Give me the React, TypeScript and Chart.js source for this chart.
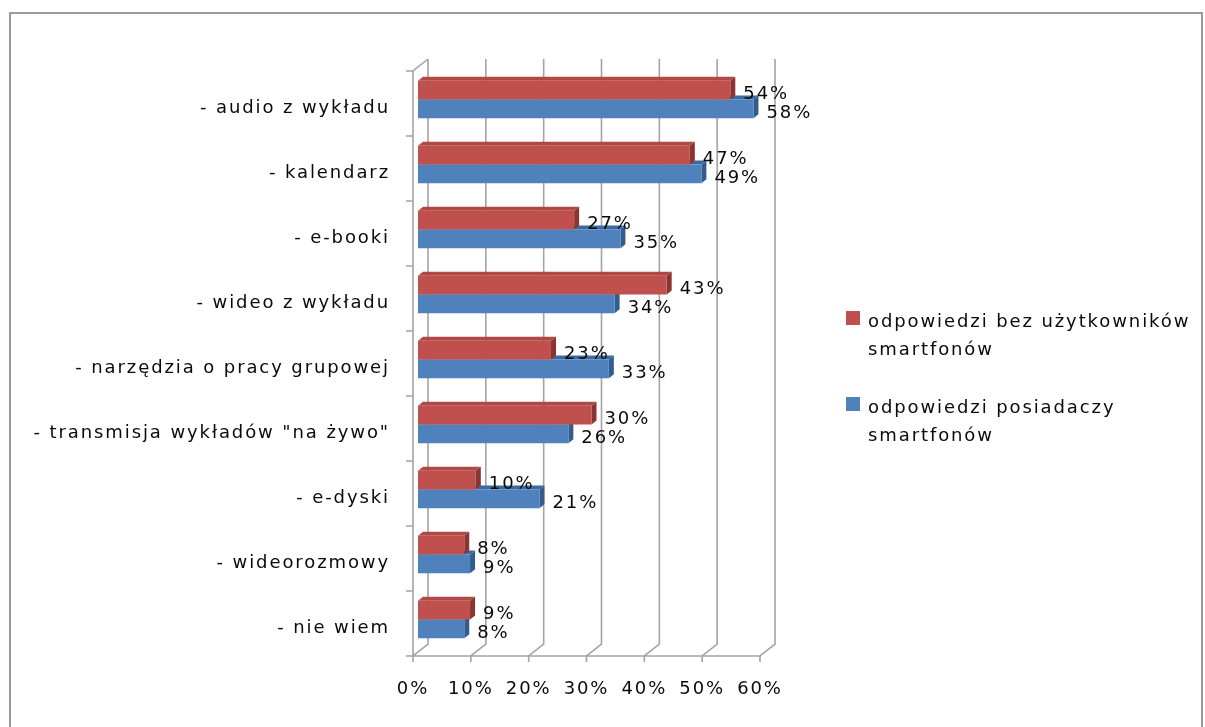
import { useEffect, useRef } from 'react';
import { Chart, registerables } from 'chart.js';

Chart.register(...registerables);

const categories = [
  '- audio z wykładu',
  '- kalendarz',
  '- e-booki',
  '- wideo z wykładu',
  '- narzędzia o pracy grupowej',
  '- transmisja wykładów "na żywo"',
  '- e-dyski',
  '- wideorozmowy',
  '- nie wiem',
];
const nonOwnersValues = [54, 47, 27, 43, 23, 30, 10, 8, 9];
const ownersValues = [58, 49, 35, 34, 33, 26, 21, 9, 8];
const nonOwnersLegend = ['odpowiedzi bez użytkowników', 'smartfonów'];
const ownersLegend = ['odpowiedzi posiadaczy', 'smartfonów'];
const xTickValues = [0, 10, 20, 30, 40, 50, 60];

const RED = '#C0504D';
const BLUE = '#4F81BD';
const FACES = [
  { top: '#b04845', side: '#8a3533' },
  { top: '#3d6a9e', side: '#345c8c' },
];
const FONT_FAMILY = '"DejaVu Sans", sans-serif';
const FONT_SIZE = 18;
const FONT = `${FONT_SIZE}px ${FONT_FAMILY}`;
const LETTER_SPACING = '1.9px';
const TEXT_COLOR = '#0a0a0a';
const GRID_COLOR = '#a4a4a4';

const setSpacing = (chart: any) => {
  (chart.ctx as any).letterSpacing = LETTER_SPACING;
};

const office3d = {
  id: 'office3d',
  beforeLayout(chart: any) {
    setSpacing(chart);
  },
  beforeDraw(chart: any) {
    setSpacing(chart);
  },
  beforeDatasetsDraw(chart: any) {
    const { ctx } = chart;
    const xs = chart.scales.x;
    const ys = chart.scales.y;
    const front = { dx: -5, dy: 4 };
    const back = { dx: 10, dy: -8 };
    const frontTop = ys.top + front.dy;
    const frontBottom = ys.bottom + front.dy;
    const backTop = ys.top + back.dy;
    const backBottom = ys.bottom + back.dy;
    ctx.save();
    ctx.strokeStyle = GRID_COLOR;
    ctx.lineWidth = 1.6;
    ctx.beginPath();
    xTickValues.forEach((v) => {
      const px = xs.getPixelForValue(v);
      const fx = px + front.dx;
      const bx = px + back.dx;
      ctx.moveTo(bx, backTop);
      ctx.lineTo(bx, backBottom);
      ctx.lineTo(fx, frontBottom);
      ctx.lineTo(fx, frontBottom + 6);
    });
    const fx0 = xs.getPixelForValue(xTickValues[0]) + front.dx;
    const bx0 = xs.getPixelForValue(xTickValues[0]) + back.dx;
    const fxEnd = xs.getPixelForValue(xTickValues[xTickValues.length - 1]) + front.dx;
    ctx.moveTo(fx0, frontBottom);
    ctx.lineTo(fxEnd, frontBottom);
    ctx.moveTo(bx0, backTop);
    ctx.lineTo(fx0, frontTop);
    ctx.lineTo(fx0, frontBottom);
    const band = (ys.bottom - ys.top) / categories.length;
    for (let i = 0; i <= categories.length; i++) {
      const yb = ys.top + band * i + front.dy;
      ctx.moveTo(fx0 - 7, yb);
      ctx.lineTo(fx0, yb);
    }
    ctx.stroke();

    // 3D faces of the bars (drawn behind the front faces)
    const d = { dx: 5, dy: -4 };
    for (let di = chart.data.datasets.length - 1; di >= 0; di--) {
      const meta = chart.getDatasetMeta(di);
      const faces = FACES[di];
      meta.data.forEach((el: any) => {
        const p = el.getProps(['x', 'y', 'base', 'height'], true);
        const top = p.y - p.height / 2;
        const bottom = p.y + p.height / 2;
        ctx.fillStyle = faces.top;
        ctx.beginPath();
        ctx.moveTo(p.base, top);
        ctx.lineTo(p.base + d.dx, top + d.dy);
        ctx.lineTo(p.x + d.dx, top + d.dy);
        ctx.lineTo(p.x, top);
        ctx.closePath();
        ctx.fill();
        ctx.fillStyle = faces.side;
        ctx.beginPath();
        ctx.moveTo(p.x, top);
        ctx.lineTo(p.x + d.dx, top + d.dy);
        ctx.lineTo(p.x + d.dx, bottom + d.dy);
        ctx.lineTo(p.x, bottom);
        ctx.closePath();
        ctx.fill();
      });
    }
    ctx.restore();
  },
  afterDatasetsDraw(chart: any) {
    const { ctx } = chart;
    ctx.save();
    (ctx as any).letterSpacing = LETTER_SPACING;
    ctx.font = FONT;
    ctx.fillStyle = TEXT_COLOR;
    ctx.textAlign = 'left';
    ctx.textBaseline = 'middle';
    chart.data.datasets.forEach((ds: any, di: number) => {
      const meta = chart.getDatasetMeta(di);
      meta.data.forEach((el: any, i: number) => {
        const p = el.getProps(['x', 'y'], true);
        ctx.fillText(`${ds.data[i]}%`, p.x + 13, p.y + 4);
      });
    });
    ctx.restore();
  },
  afterDraw(chart: any) {
    const { ctx, chartArea } = chart;
    ctx.save();
    (ctx as any).letterSpacing = LETTER_SPACING;
    ctx.font = FONT;
    ctx.textAlign = 'left';
    ctx.textBaseline = 'alphabetic';
    const items = [
      { lines: nonOwnersLegend, color: RED },
      { lines: ownersLegend, color: BLUE },
    ];
    const sx = chartArea.right + 81;
    items.forEach((it, k) => {
      const sy = chartArea.top + 244 + k * 86;
      ctx.fillStyle = it.color;
      ctx.fillRect(sx, sy, 14, 14);
      ctx.fillStyle = TEXT_COLOR;
      it.lines.forEach((line, j) => {
        ctx.fillText(line, sx + 22, sy + 16 + j * 28);
      });
    });
    ctx.restore();
  },
};

export default function App() {
  const ref = useRef<HTMLCanvasElement>(null);
  useEffect(() => {
    document.body.style.overflow = 'hidden';
    const chart = new Chart(ref.current as HTMLCanvasElement, {
      type: 'bar',
      data: {
        labels: categories,
        datasets: [
          {
            label: nonOwnersLegend.join(' '),
            data: nonOwnersValues,
            backgroundColor: RED,
            borderWidth: 0,
            categoryPercentage: 0.58,
            barPercentage: 1,
          },
          {
            label: ownersLegend.join(' '),
            data: ownersValues,
            backgroundColor: BLUE,
            borderWidth: 0,
            categoryPercentage: 0.58,
            barPercentage: 1,
          },
        ],
      },
      options: {
        responsive: false,
        animation: false,
        indexAxis: 'y',
        layout: { padding: { top: 53, right: 436, left: 0, bottom: 0 } },
        plugins: {
          legend: { display: false },
          tooltip: { enabled: false },
        },
        scales: {
          x: {
            min: 0,
            max: 60,
            ticks: {
              stepSize: 10,
              callback: (v: any) => `${v}%`,
              font: { family: FONT_FAMILY, size: FONT_SIZE },
              color: TEXT_COLOR,
              padding: 27,
              labelOffset: -5,
              maxRotation: 0,
            },
            grid: { display: false, drawTicks: false },
            border: { display: false },
            afterFit: (s: any) => {
              s.height = 75;
            },
          },
          y: {
            ticks: {
              font: { family: FONT_FAMILY, size: FONT_SIZE },
              color: TEXT_COLOR,
              padding: 28,
              labelOffset: 9,
              autoSkip: false,
            },
            grid: { display: false, drawTicks: false },
            border: { display: false },
            afterFit: (s: any) => {
              s.width = 407;
            },
          },
        },
      },
      plugins: [office3d],
    } as any);
    return () => chart.destroy();
  }, []);
  return (
    <div
      style={{
        position: 'absolute',
        left: 9,
        top: 12,
        width: 1194,
        height: 740,
        border: '2px solid #9a9a9a',
        boxSizing: 'border-box',
        background: '#fff',
      }}
    >
      <canvas ref={ref} width={1190} height={713} style={{ display: 'block', width: 1190, height: 713 }} />
    </div>
  );
}
